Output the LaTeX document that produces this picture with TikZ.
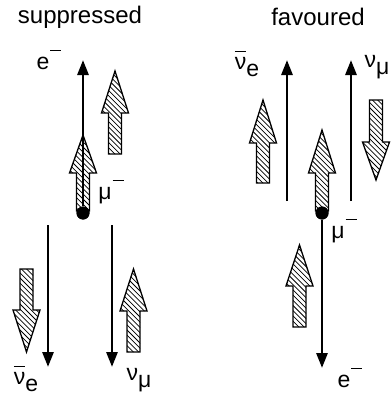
\documentclass[tikz,border=0pt]{standalone}
\usepackage{fontspec}
\setmainfont{Liberation Sans}
\usetikzlibrary{arrows.meta}

\newcommand\nubar{\makebox[0pt][l]{\rule[0.74em]{0.5em}{1.1pt}}ν}
\newcommand\sbar{\hspace{0.8pt}\raisebox{0.8em}{\rule{0.48em}{1.2pt}}}
\newcommand\low[1]{\raisebox{-0.3em}{#1}}

\tikzset{
  track/.style={line width=2.8pt, -{Triangle[length=15pt,width=11pt]}},
  spin/.style={line width=1.3pt, line join=miter},
  hatch/.style={line width=0.75pt},
  muon/.style={circle, fill, inner sep=0pt, minimum size=13pt},
  lbl/.style={font=\fontsize{23}{25}\selectfont, inner sep=0pt},
  title/.style={font=\fontsize{24}{26}\selectfont, inner sep=0pt},
}

\begin{document}
\begin{tikzpicture}[x=1pt, y=-1pt]
  \useasboundingbox (0,0) rectangle (391,396);

  \node[title] (supp) at (80,17) {suppressed};
  \node[title] (fav) at (318,17) {favoured};

  % suppressed decay
  \node[muon] (muL) at (83,213) {};
  \coordinate (eL) at (83,60);
  \coordinate (nebL0) at (48,225);
  \coordinate (nebL) at (48,367);
  \coordinate (nmuL0) at (112,225);
  \coordinate (nmuL) at (112,367);
  \draw[track] (muL) -- (eL);
  \draw[track] (nebL0) -- (nebL);
  \draw[track] (nmuL0) -- (nmuL);

  \node[lbl] (eLlbl) at (49,60) {e\sbar};
  \node[lbl] (muLlbl) at (111,192) {μ\sbar};
  \node[lbl] (nebLlbl) at (26,379) {\nubar\low{e}};
  \node[lbl] (nmuLlbl) at (139,380) {ν\low{μ}};

  % favoured decay
  \node[muon] (muR) at (322,213) {};
  \coordinate (nebR0) at (287,201);
  \coordinate (nebR) at (287,60);
  \coordinate (nmuR0) at (351,201);
  \coordinate (nmuR) at (351,60);
  \coordinate (eR) at (322,368);
  \draw[track] (nebR0) -- (nebR);
  \draw[track] (nmuR0) -- (nmuR);
  \draw[track] (muR) -- (eR);

  \node[lbl] (nebRlbl) at (247,64) {\nubar\low{e}};
  \node[lbl] (nmuRlbl) at (377,67) {ν\low{μ}};
  \node[lbl] (muRlbl) at (344,231) {μ\sbar};
  \node[lbl] (eRlbl) at (350,378) {e\sbar};

  % spins: x / tail / head base / tip
  \foreach \x/\t/\b/\p in {83/211/173/135, 115/154/113/71, 26.5/269/310/352,
      133.5/352/311/269, 263/183/143/100, 322/211/173/130, 376/100/142/180,
      299.5/327/286/245} {
    \def\spinpath{(\x-6.5,\t) -- (\x-6.5,\b) -- (\x-13.5,\b) -- (\x,\p)
      -- (\x+13.5,\b) -- (\x+6.5,\b) -- (\x+6.5,\t) -- cycle}
    \pgfmathsetmacro\m{(\t+\p)/2}
    \begin{scope}
      \clip \spinpath;
      \foreach \k in {-11,...,11}
        \draw[hatch] (\x+\k*5.2-50,\m-50) -- (\x+\k*5.2+50,\m+50);
    \end{scope}
    \draw[spin] \spinpath;
  }
  \fill (muL) circle (6.5);
  \fill (muR) circle (6.5);
\end{tikzpicture}
\end{document}
